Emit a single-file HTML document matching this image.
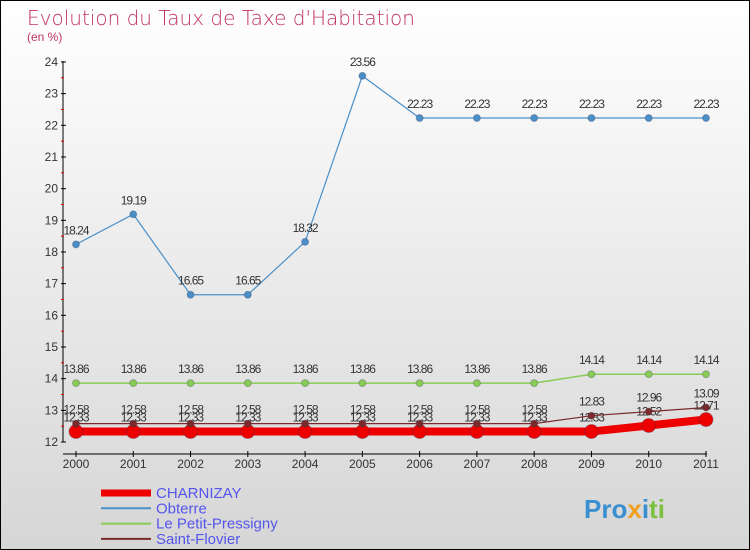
<!DOCTYPE html>
<html><head><meta charset="utf-8"><style>
body{margin:0}
#wrap{width:748px;height:548px;border:1px solid #000;background:linear-gradient(#fff,#d6d6d6);position:relative;overflow:hidden;font-family:"Liberation Sans",sans-serif}
</style></head><body>
<div id="wrap">
<svg id="svg" width="748" height="548" xmlns="http://www.w3.org/2000/svg">
<text x="26" y="24" font-size="20" fill="#c0325f" style="font-family:'DejaVu Sans',sans-serif;font-weight:200">Evolution du Taux de Taxe d'Habitation</text>
<text x="26" y="40" font-size="12" fill="#c0325f">(en %)</text>
<g id="axes"></g><g id="series"></g><g id="legend"></g>
<text x="583" y="517" font-size="26" font-weight="bold"><tspan fill="#3a8fd0">Pro</tspan><tspan fill="#f0a020">x</tspan><tspan fill="#3a8fd0">i</tspan><tspan fill="#7cc040">ti</tspan></text>
</svg></div>
<script>
const years=[2000,2001,2002,2003,2004,2005,2006,2007,2008,2009,2010,2011];
const charnizay=[12.33,12.33,12.33,12.33,12.33,12.33,12.33,12.33,12.33,12.33,12.52,12.71];
const obterre=[18.24,19.19,16.65,16.65,18.32,23.56,22.23,22.23,22.23,22.23,22.23,22.23];
const petit=[13.86,13.86,13.86,13.86,13.86,13.86,13.86,13.86,13.86,14.14,14.14,14.14];
const flovier=[12.58,12.58,12.58,12.58,12.58,12.58,12.58,12.58,12.58,12.83,12.96,13.09];
const yTicks=[12,13,14,15,16,17,18,19,20,21,22,23,24];
const NS="http://www.w3.org/2000/svg";
const X=i=>75+i*(630/11), Y=v=>441-(v-12)*31.67;
function mk(t,a,p){const e=document.createElementNS(NS,t);for(const k in a)e.setAttribute(k,a[k]);p.appendChild(e);return e;}
const ax=document.getElementById('axes'),se=document.getElementById('series'),lg=document.getElementById('legend');
let l=mk('line',{x1:62,y1:60,x2:62,y2:441,stroke:'#000'},ax);

l=mk('line',{x1:62,y1:453,x2:706,y2:453,stroke:'#000'},ax);

yTicks.forEach(v=>{mk('line',{x1:60,y1:Y(v),x2:65,y2:Y(v),stroke:'#000'},ax);
 if(v<24)mk('line',{x1:60,y1:Y(v+0.5),x2:63,y2:Y(v+0.5),stroke:'#d00'},ax);
 const t=mk('text',{x:57,y:Y(v)+4,'font-size':12,'text-anchor':'end',fill:'#333'},ax);t.textContent=v;
 });
years.forEach((y,i)=>{mk('line',{x1:X(i),y1:450,x2:X(i),y2:456,stroke:'#000'},ax);
 const t=mk('text',{x:X(i),y:467,'font-size':12,'text-anchor':'middle',fill:'#333'},ax);t.textContent=y;
 });
function series(name,data,color,w,r,lab){
 const g=mk('g',{},se);
 mk('polyline',{points:data.map((v,i)=>X(i)+','+Y(v)).join(' '),fill:'none',stroke:color,'stroke-width':w},g);
 data.forEach((v,i)=>{const c=mk('circle',{cx:X(i),cy:Y(v),r:r,fill:color,stroke:'#335','stroke-opacity':0.3},g);
  
  if(lab){const t=mk('text',{x:X(i),y:Y(v)-10,'font-size':12,'text-anchor':'middle',fill:'#333','letter-spacing':'-1'},g);t.textContent=v.toFixed(2);
  }});
}
series('obterre',obterre,'#4a8fc8',1.2,3.5,true);
series('le-petit-pressigny',petit,'#88cc55',1.5,3.5,true);
series('charnizay',charnizay,'#ee0000',8,7,true);
series('saint-flovier',flovier,'#7a2a2a',1.2,3.5,true);
const leg=[['CHARNIZAY','#ee0000',7],['Obterre','#4a8fc8',2],['Le Petit-Pressigny','#88cc55',2],['Saint-Flovier','#7a2a2a',2]];
leg.forEach((d,i)=>{const g=mk('g',{},lg);
 const y=492+i*15.3;mk('line',{x1:100,y1:y,x2:150,y2:y,stroke:d[1],'stroke-width':d[2]},g);
 const t=mk('text',{x:155,y:y+5,'font-size':15,fill:'#5555ee'},g);t.textContent=d[0];});
</script></body></html>
